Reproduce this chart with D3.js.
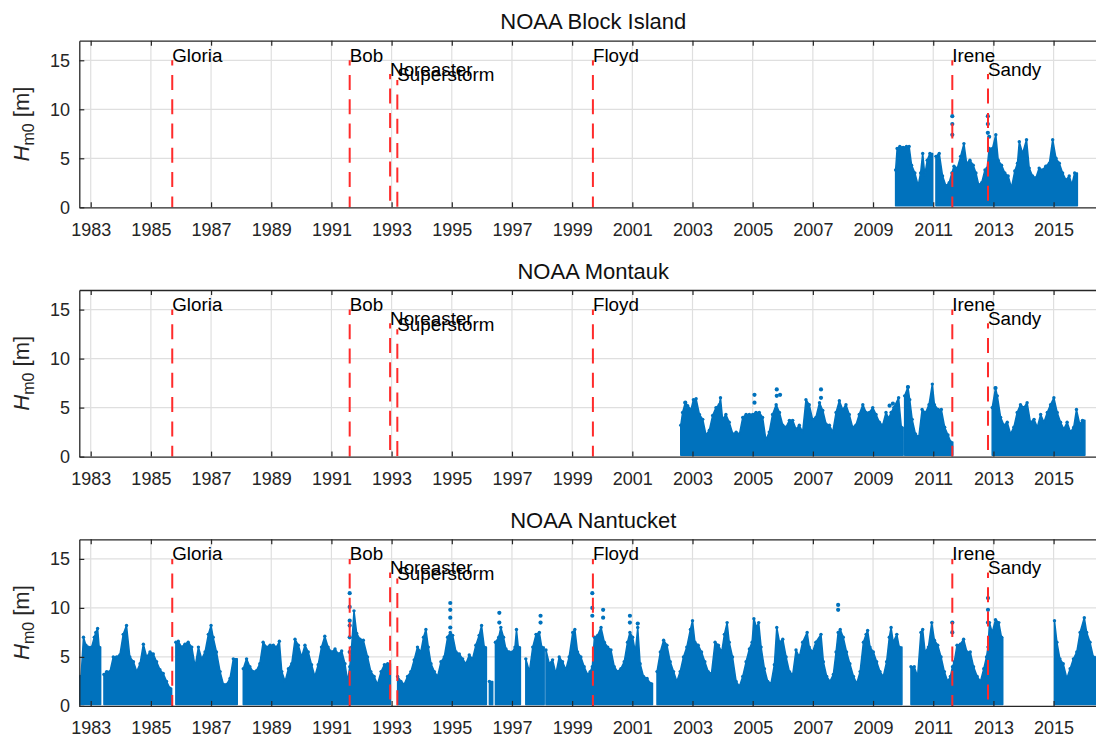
<!DOCTYPE html>
<html>
<head>
<meta charset="utf-8">
<script src="https://cdn.jsdelivr.net/npm/d3@7"></script>
<style>
  body { margin: 0; background: #fff; }
  text { font-family: "Liberation Sans", Arial, Helvetica, sans-serif; }
</style>
</head>
<body>
<svg id="chart" width="1096" height="736"></svg>
<script>
// ---- data (decimal years, Hm0 in metres) ----
const stationNames = ["NOAA Block Island", "NOAA Montauk", "NOAA Nantucket"];
const yearTicks = [1983, 1985, 1987, 1989, 1991, 1993, 1995, 1997, 1999, 2001, 2003, 2005, 2007, 2009, 2011, 2013, 2015];
const hTicks = [0, 5, 10, 15];

const stormNames = ["Gloria", "Bob", "Noreaster", "Superstorm", "Floyd", "Irene", "Sandy"];
const stormYears = [1985.71, 1991.607, 1992.95, 1993.19, 1999.69, 2011.634, 2012.82];
const stormTops  = [15, 15, 13.6, 13.0, 15, 15, 13.6];

// upper envelope of the hourly scatter: [year, Hm0]; null closes a record
const blockIsland = [
  [2009.75,3.8],[2009.80,6.0],[2009.89,6.2],[2010.00,6.1],[2010.11,6.2],[2010.20,6.2],[2010.28,4.3],[2010.39,3.5],
  [2010.50,2.2],[2010.58,3.5],[2010.65,5.5],[2010.72,3.3],[2010.80,4.8],[2010.89,5.5],[2010.98,null],
  [2011.09,5.2],[2011.20,5.5],[2011.31,3.2],[2011.42,2.2],[2011.53,2.5],[2011.62,3.5],[2011.69,4.2],[2011.80,4.0],
  [2011.91,5.2],[2012.02,6.5],[2012.11,4.5],[2012.22,4.8],[2012.33,4.3],[2012.42,3.5],[2012.51,2.3],[2012.61,2.5],
  [2012.72,3.8],[2012.79,4.0],[2012.86,6.0],[2012.97,6.0],[2013.08,7.4],[2013.16,4.8],[2013.27,4.3],[2013.38,3.5],
  [2013.49,3.2],[2013.60,2.0],[2013.71,3.7],[2013.80,4.5],[2013.86,6.7],[2013.97,5.5],[2014.10,6.9],[2014.19,4.0],
  [2014.30,3.2],[2014.41,3.0],[2014.52,4.0],[2014.63,3.8],[2014.74,4.2],[2014.86,4.5],[2014.97,6.9],[2015.08,5.0],
  [2015.19,4.5],[2015.30,3.5],[2015.41,2.8],[2015.52,3.2],[2015.61,2.3],[2015.70,3.5],[2015.79,null]
];
const blockIslandPeaks = [
  [2011.634,9.3],[2011.634,8.5],[2011.634,7.4],[2012.815,9.3],[2012.815,8.5],[2012.815,7.6],[2012.86,7.2]
];

const montauk = [
  [2002.61,3.2],[2002.67,4.5],[2002.76,5.5],[2002.84,5.2],[2002.95,4.8],[2003.03,5.8],[2003.12,5.9],[2003.23,4.3],
  [2003.34,3.8],[2003.45,2.2],[2003.56,2.7],[2003.67,4.2],[2003.78,5.0],[2003.89,5.3],[2003.93,6.0],[2004.00,3.8],
  [2004.11,4.3],[2004.22,3.5],[2004.34,2.3],[2004.45,2.5],[2004.56,2.3],[2004.67,4.0],[2004.78,4.3],[2004.89,4.3],
  [2005.00,4.3],[2005.11,4.5],[2005.22,4.5],[2005.33,4.0],[2005.44,1.7],[2005.55,2.5],[2005.66,4.3],[2005.78,5.3],
  [2005.89,4.5],[2006.00,3.2],[2006.11,3.0],[2006.22,3.7],[2006.33,3.7],[2006.44,2.8],[2006.55,3.2],[2006.66,2.5],
  [2006.77,5.8],[2006.88,5.3],[2006.99,3.8],[2007.10,4.0],[2007.22,5.5],[2007.33,4.7],[2007.44,3.3],[2007.55,3.2],
  [2007.66,2.5],[2007.77,4.5],[2007.88,5.7],[2007.99,4.8],[2008.10,5.3],[2008.21,4.3],[2008.32,3.0],[2008.43,3.2],
  [2008.54,4.3],[2008.66,5.3],[2008.77,4.5],[2008.88,4.5],[2008.99,5.0],[2009.10,4.3],[2009.21,3.5],[2009.32,3.2],
  [2009.43,4.5],[2009.52,3.9],[2009.60,4.5],[2009.69,5.0],[2009.85,6.0],[2009.94,3.0],[2010.00,null],
  [2010.05,6.2],[2010.16,7.1],[2010.22,5.8],[2010.30,3.8],[2010.41,2.3],[2010.52,2.0],[2010.63,4.8],[2010.75,4.5],
  [2010.86,5.3],[2010.97,7.4],[2011.04,5.3],[2011.16,4.8],[2011.27,4.8],[2011.38,3.0],[2011.49,2.2],[2011.58,1.5],[2011.65,null],
  [2012.96,5.0],[2013.07,7.0],[2013.13,6.2],[2013.24,4.0],[2013.35,3.2],[2013.46,3.5],[2013.57,2.3],[2013.68,3.0],
  [2013.79,4.5],[2013.90,5.3],[2014.01,5.0],[2014.12,5.5],[2014.23,3.5],[2014.35,3.8],[2014.46,3.0],[2014.57,4.3],
  [2014.68,3.5],[2014.79,4.5],[2014.90,5.3],[2015.01,6.0],[2015.12,4.5],[2015.23,3.5],[2015.34,2.8],[2015.45,3.5],
  [2015.56,2.5],[2015.67,3.0],[2015.76,4.8],[2015.87,3.3],[2015.96,3.7],[2016.04,null]
];
const montaukPeaks = [
  [2002.76,5.5],[2005.06,6.3],[2005.06,5.5],[2005.80,6.85],[2005.80,6.2],[2005.91,6.3],[2007.27,6.85],[2007.27,6.0],
  [2009.55,5.2],[2009.66,5.4],[2010.16,7.1],[2013.07,7.0]
];

const nantucket = [
  [1982.62,3.0],[1982.68,3.0],[1982.76,7.0],[1982.84,6.2],[1982.92,6.0],[1983.03,6.0],[1983.12,7.0],[1983.17,7.5],
  [1983.23,7.9],[1983.28,6.0],[1983.33,null],
  [1983.44,3.2],[1983.53,3.5],[1983.64,3.5],[1983.75,5.0],[1983.86,5.0],[1983.97,5.2],[1984.08,7.3],[1984.19,8.2],
  [1984.30,5.0],[1984.42,4.5],[1984.53,3.5],[1984.64,4.3],[1984.75,6.3],[1984.86,5.0],[1984.97,5.5],[1985.08,5.3],
  [1985.19,4.5],[1985.30,3.7],[1985.41,3.3],[1985.52,2.5],[1985.63,1.8],[1985.69,null],
  [1985.83,6.5],[1985.91,6.6],[1986.02,6.0],[1986.13,6.3],[1986.24,6.5],[1986.36,6.0],[1986.47,4.0],[1986.58,6.0],
  [1986.69,4.8],[1986.80,5.5],[1986.91,7.3],[1987.00,8.2],[1987.07,7.0],[1987.18,5.5],[1987.30,3.5],[1987.41,2.2],
  [1987.52,2.2],[1987.63,2.8],[1987.74,4.8],[1987.87,null],
  [1988.07,3.8],[1988.18,4.8],[1988.29,4.0],[1988.40,3.5],[1988.51,3.6],[1988.62,4.3],[1988.73,6.5],[1988.85,6.0],
  [1988.96,6.2],[1989.07,6.2],[1989.18,6.0],[1989.27,6.6],[1989.35,3.5],[1989.46,2.5],[1989.57,3.8],[1989.68,4.3],
  [1989.79,6.8],[1989.90,6.2],[1990.01,5.0],[1990.12,6.2],[1990.23,5.5],[1990.34,4.2],[1990.45,3.0],[1990.56,4.2],
  [1990.67,6.0],[1990.78,7.1],[1990.89,6.0],[1991.00,5.5],[1991.12,5.8],[1991.23,5.3],[1991.34,5.6],[1991.45,4.3],
  [1991.54,2.5],[1991.61,4.0],[1991.67,6.0],[1991.75,9.7],[1991.84,7.4],[1991.95,6.8],[1992.06,6.7],[1992.20,5.0],
  [1992.31,3.5],[1992.42,3.0],[1992.53,2.2],[1992.65,3.5],[1992.76,4.2],[1992.87,4.3],[1992.96,null],
  [1993.20,3.0],[1993.31,2.5],[1993.42,2.2],[1993.53,3.0],[1993.64,3.5],[1993.75,4.7],[1993.86,6.0],[1993.97,5.5],
  [1994.06,7.0],[1994.14,7.8],[1994.22,6.0],[1994.31,4.3],[1994.42,3.5],[1994.53,3.0],[1994.64,4.5],[1994.75,5.0],
  [1994.86,7.0],[1994.95,7.5],[1995.03,7.2],[1995.14,5.5],[1995.25,5.3],[1995.36,4.8],[1995.47,4.3],[1995.58,5.2],
  [1995.69,4.8],[1995.80,6.2],[1995.91,7.2],[1995.99,8.2],[1996.08,6.0],[1996.15,null],
  [1996.25,2.5],[1996.36,null],
  [1996.45,6.5],[1996.56,7.0],[1996.63,8.0],[1996.72,7.0],[1996.80,5.8],[1996.91,5.5],[1997.02,5.5],[1997.10,6.0],
  [1997.15,7.8],[1997.21,6.0],[1997.28,null],
  [1997.46,4.8],[1997.58,3.5],[1997.69,6.0],[1997.80,7.3],[1997.91,7.5],[1997.99,6.0],[1998.07,null],
  [1998.13,5.7],[1998.24,4.3],[1998.35,4.7],[1998.46,3.3],[1998.57,5.0],[1998.68,4.5],[1998.79,3.7],[1998.90,5.0],
  [1999.02,7.5],[1999.09,7.8],[1999.18,5.5],[1999.29,5.0],[1999.40,4.0],[1999.51,3.2],[1999.60,3.5],[1999.67,4.0],
  [1999.74,7.0],[1999.85,7.2],[1999.96,8.0],[2000.07,6.5],[2000.18,6.0],[2000.29,5.7],[2000.40,4.0],[2000.51,3.5],
  [2000.62,3.8],[2000.73,4.5],[2000.84,6.5],[2000.92,7.5],[2001.01,7.0],[2001.10,5.5],[2001.18,8.0],[2001.26,4.3],
  [2001.37,3.0],[2001.49,2.8],[2001.60,2.3],[2001.67,null],
  [2001.82,3.5],[2001.93,5.5],[2002.04,6.7],[2002.15,6.2],[2002.26,4.5],[2002.37,3.5],[2002.48,2.5],[2002.59,3.5],
  [2002.70,5.0],[2002.81,6.0],[2002.93,7.8],[2003.00,8.7],[2003.08,6.5],[2003.19,6.2],[2003.30,5.5],[2003.41,4.5],
  [2003.52,3.5],[2003.63,3.3],[2003.75,6.5],[2003.86,6.2],[2003.97,5.5],[2004.06,7.3],[2004.15,8.5],[2004.22,6.5],
  [2004.33,5.0],[2004.45,2.5],[2004.56,2.0],[2004.67,3.0],[2004.78,4.5],[2004.89,5.8],[2004.98,6.5],[2005.04,8.9],
  [2005.13,8.0],[2005.20,8.5],[2005.28,6.0],[2005.39,3.8],[2005.50,2.5],[2005.61,2.3],[2005.72,4.2],[2005.80,8.0],
  [2005.89,6.5],[2006.00,6.8],[2006.11,5.0],[2006.22,3.5],[2006.33,3.2],[2006.44,5.7],[2006.55,5.0],[2006.66,6.5],
  [2006.81,7.5],[2006.88,6.0],[2006.99,5.5],[2007.10,6.5],[2007.27,7.3],[2007.35,4.5],[2007.46,3.0],[2007.57,2.5],
  [2007.68,3.2],[2007.77,5.5],[2007.84,7.5],[2007.91,7.8],[2008.01,7.0],[2008.12,5.5],[2008.23,4.3],[2008.35,3.0],
  [2008.46,2.3],[2008.57,3.5],[2008.68,6.5],[2008.77,7.3],[2008.82,7.7],[2008.90,6.0],[2009.01,5.5],[2009.12,4.5],
  [2009.23,3.5],[2009.34,3.0],[2009.45,4.5],[2009.54,7.0],[2009.60,8.0],[2009.67,6.5],[2009.79,7.3],[2009.87,6.0],[2009.96,null],
  [2010.26,4.0],[2010.37,4.0],[2010.48,3.0],[2010.59,7.5],[2010.65,7.8],[2010.73,5.5],[2010.84,6.0],[2010.95,8.5],
  [2011.04,6.7],[2011.15,6.2],[2011.26,5.0],[2011.37,3.5],[2011.48,2.5],[2011.57,3.0],[2011.64,4.0],[2011.70,4.5],
  [2011.79,6.2],[2011.90,6.3],[2012.01,6.8],[2012.12,5.5],[2012.23,5.5],[2012.34,4.0],[2012.46,3.0],[2012.57,2.5],
  [2012.68,3.8],[2012.77,5.0],[2012.82,6.0],[2012.87,8.5],[2012.96,7.5],[2013.07,8.8],[2013.18,8.5],[2013.27,7.0],[2013.31,null],
  [2015.03,8.7],[2015.11,6.5],[2015.21,4.8],[2015.32,4.3],[2015.44,2.8],[2015.55,3.8],[2015.66,4.8],[2015.77,5.5],
  [2015.88,7.5],[2016.02,9.0],[2016.10,7.5],[2016.21,6.5],[2016.32,5.0],[2016.45,5.0],[2016.60,4.0],[2016.80,null]
];
const nantucketPeaks = [
  [1991.607,11.5],[1991.607,10.1],[1991.607,8.7],[1991.607,8.2],[1991.607,7.0],[1991.607,5.5],
  [1994.95,10.5],[1994.95,9.8],[1994.95,9.0],[1994.95,8.0],[1996.58,9.5],[1996.58,8.5],[1997.95,9.2],[1997.95,8.5],
  [1999.67,11.5],[1999.67,10.0],[1999.67,9.2],[2000.03,9.8],[2000.03,9.0],[2000.92,9.2],[2000.92,8.5],[2001.18,8.4],
  [2007.84,10.3],[2007.84,9.8],[2011.634,8.5],[2011.634,7.5],[2012.82,11.0],[2012.82,9.8],[2012.82,8.5]
];

const panelData = [blockIsland, montauk, nantucket];
const panelPeaks = [blockIslandPeaks, montaukPeaks, nantucketPeaks];

// ---- layout ----
const panelTops = [40.7, 290, 539.3];
const panelH = 166.6;
const left = 79.3, right = 1107.3;
const blue = "#0072BD", axisColor = "#262626", gridColor = "#dfdfdf";
const lowH = 0.15;

const svg = d3.select("#chart");
const x = d3.scaleLinear().domain([1982.621, 2016.785]).range([left, right]);

stationNames.forEach((name, p) => {
  const top = panelTops[p];
  const y = d3.scaleLinear().domain([0, 17]).range([top + panelH, top]);
  const g = svg.append("g");

  const clipId = "clip" + p;
  g.append("clipPath").attr("id", clipId)
    .append("rect").attr("x", left).attr("y", top).attr("width", right - left).attr("height", panelH);

  // grid
  g.append("g").selectAll("line").data(yearTicks).join("line")
    .attr("x1", d => x(d)).attr("x2", d => x(d)).attr("y1", top).attr("y2", top + panelH)
    .attr("stroke", gridColor).attr("stroke-width", 1.2);
  g.append("g").selectAll("line").data(hTicks.slice(1)).join("line")
    .attr("x1", left).attr("x2", right).attr("y1", d => y(d)).attr("y2", d => y(d))
    .attr("stroke", gridColor).attr("stroke-width", 1.2);

  // data: split records at nulls
  const segs = [];
  let cur = [];
  panelData[p].forEach(d => {
    if (d[1] === null) {
      if (cur.length) { cur.push([d[0], cur[cur.length - 1][1]]); segs.push(cur); }
      cur = [];
    } else cur.push(d);
  });
  if (cur.length) segs.push(cur);

  const area = d3.area().x(d => x(d[0])).y0(y(lowH)).y1(d => y(d[1])).curve(d3.curveLinear);
  const dataG = g.append("g").attr("clip-path", `url(#${clipId})`);
  dataG.selectAll("path.rec").data(segs).join("path")
    .attr("class", "rec").attr("d", area).attr("fill", blue)
    .attr("stroke", blue).attr("stroke-width", 1.5).attr("stroke-linejoin", "round");
  dataG.selectAll("circle.pt").data(panelData[p].filter(d => d[1] !== null)).join("circle")
    .attr("class", "pt").attr("cx", d => x(d[0])).attr("cy", d => y(d[1])).attr("r", 1.7).attr("fill", blue);
  dataG.selectAll("circle.pk").data(panelPeaks[p]).join("circle")
    .attr("class", "pk").attr("cx", d => x(d[0])).attr("cy", d => y(d[1])).attr("r", 2.1).attr("fill", blue);

  // storm markers
  const storms = stormNames.map((s, i) => ({ name: s, t: stormYears[i], top: stormTops[i] }));
  g.append("g").selectAll("line").data(storms).join("line")
    .attr("x1", d => x(d.t)).attr("x2", d => x(d.t))
    .attr("y1", d => y(d.top)).attr("y2", y(0))
    .attr("stroke", "#ff2b2b").attr("stroke-width", 2)
    .attr("stroke-dasharray", "15,9.3").attr("stroke-dashoffset", 9.7);
  g.append("g").selectAll("text").data(storms).join("text")
    .attr("x", d => x(d.t)).attr("y", d => y(d.top) + 1.5)
    .attr("font-size", 18.8).attr("fill", "#000").text(d => d.name);

  // axes (MATLAB style box with inward ticks)
  const xAxis = d3.axisBottom(x).tickValues(yearTicks).tickFormat(d3.format("d"))
    .tickSizeInner(-5).tickSizeOuter(0).tickPadding(15.5);
  const ax = g.append("g").attr("transform", `translate(0,${top + panelH})`).call(xAxis);
  const axTop = g.append("g").attr("transform", `translate(0,${top})`)
    .call(d3.axisTop(x).tickValues(yearTicks).tickFormat("").tickSizeInner(-5).tickSizeOuter(0));
  const yAxis = d3.axisLeft(y).tickValues(hTicks).tickSizeInner(-5).tickSizeOuter(0).tickPadding(9.3);
  const ay = g.append("g").attr("transform", `translate(${left},0)`).call(yAxis);
  [ax, axTop, ay].forEach(a => {
    a.select(".domain").attr("stroke", axisColor).attr("stroke-width", 1.3);
    a.selectAll(".tick line").attr("stroke", axisColor).attr("stroke-width", 1.2);
    a.selectAll(".tick text").attr("fill", axisColor).attr("font-size", 18)
      .attr("font-family", '"Liberation Sans", Arial, sans-serif');
  });

  // title
  g.append("text").attr("x", (left + right) / 2).attr("y", top - 11.3)
    .attr("text-anchor", "middle").attr("font-size", 22).attr("fill", "#111").text(name);

  // y label: H_m0 [m]
  const yl = g.append("text")
    .attr("transform", `translate(29,${top + panelH / 2}) rotate(-90)`)
    .attr("text-anchor", "middle").attr("font-size", 22).attr("fill", axisColor);
  yl.append("tspan").attr("font-style", "italic").text("H");
  yl.append("tspan").attr("font-size", 16).attr("dy", 5).text("m0");
  yl.append("tspan").attr("dy", -5).text(" [m]");
});
</script>
</body>
</html>
